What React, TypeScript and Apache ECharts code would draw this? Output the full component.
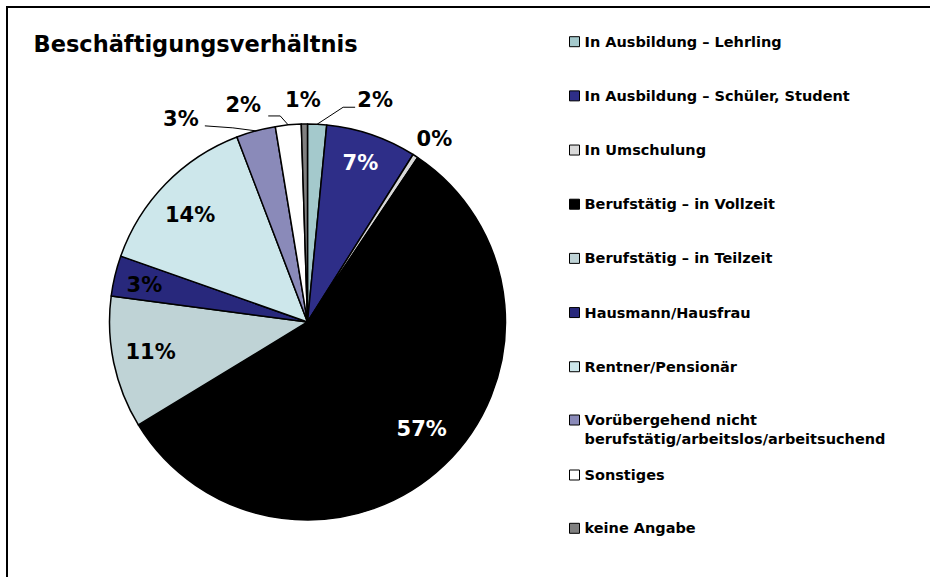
import React, { useEffect, useRef } from 'react';
import * as echarts from 'echarts';

const TITLE = 'Beschäftigungsverhältnis';

const CATEGORIES = [
  'In Ausbildung – Lehrling',
  'In Ausbildung – Schüler, Student',
  'In Umschulung',
  'Berufstätig – in Vollzeit',
  'Berufstätig – in Teilzeit',
  'Hausmann/Hausfrau',
  'Rentner/Pensionär',
  'Vorübergehend nicht berufstätig/arbeitslos/arbeitsuchend',
  'Sonstiges',
  'keine Angabe',
];

const VALUES = [1.55, 7.4, 0.45, 56.9, 10.8, 3.3, 13.8, 3.2, 2.1, 0.5];

const COLORS = [
  '#A4C9CC',
  '#2E2E88',
  '#D9D9D9',
  '#000000',
  '#BFD3D6',
  '#28287C',
  '#CDE7EB',
  '#8A8AB9',
  '#FFFFFF',
  '#808080',
];

const LABEL_COLORS = ['#000', '#fff', '#000', '#fff', '#000', '#000', '#000', '#000', '#000', '#000'];

// layout (not data)
const CX = 307.5;
const CY = 322;
const R = 198;
const FONT = 'DejaVu Sans';

type LabelCfg =
  | { kind: 'in'; f: number; dx: number; dy: number }
  | { kind: 'out'; dx: number; dy: number; line?: number[][] };

const LABEL_LAYOUT: LabelCfg[] = [
  { kind: 'out', dx: 58, dy: -24, line: [[26, -17], [38, -17]] },
  { kind: 'in', f: 0.84, dx: -1, dy: -1.5 },
  { kind: 'out', dx: 19, dy: -17 },
  { kind: 'in', f: 0.79, dx: 6, dy: -6 },
  { kind: 'in', f: 0.81, dx: 0, dy: -3 },
  { kind: 'in', f: 0.85, dx: 0.5, dy: 2 },
  { kind: 'in', f: 0.8, dx: -4, dy: 4 },
  { kind: 'out', dx: -75, dy: -12, line: [[-23, -3], [-51, -5]] },
  { kind: 'out', dx: -45, dy: -20, line: [[-8, -9], [-20, -9]] },
  { kind: 'out', dx: -1.5, dy: -24 },
];

export default function App() {
  const ref = useRef<HTMLDivElement>(null);

  useEffect(() => {
    if (!ref.current) return;
    const chart = echarts.init(ref.current, undefined, { renderer: 'svg' });

    const total = VALUES.reduce((a, b) => a + b, 0);
    const cum: number[] = [0];
    VALUES.forEach((v, i) => cum.push(cum[i] + v));

    const legendBase: any = {
      orient: 'vertical',
      left: 569,
      padding: 0,
      itemWidth: 10,
      itemHeight: 10,
      icon: 'rect',
      selectedMode: false,
      itemStyle: { borderColor: '#000', borderWidth: 1 },
      textStyle: {
        fontFamily: FONT,
        fontWeight: 'bold',
        fontSize: 14.5,
        color: '#000',
        lineHeight: 19,
      },
    };

    const option: any = {
      animation: false,
      backgroundColor: '#fff',
      title: {
        text: TITLE,
        left: 33.5,
        top: 33,
        padding: 0,
        textStyle: {
          fontFamily: FONT,
          fontWeight: 'bold',
          fontSize: 22.5,
          lineHeight: 22,
          color: '#000',
        },
      },
      legend: [
        { ...legendBase, top: 32.2, itemGap: 35.17, data: CATEGORIES.slice(0, 7) },
        {
          ...legendBase,
          top: 391.5,
          data: [CATEGORIES[7]],
          formatter: (name: string) => '\n' + name.replace('nicht ', 'nicht\n'),
        },
        { ...legendBase, top: 465.5, itemGap: 34.3, data: CATEGORIES.slice(8) },
      ],
      graphic: [
        {
          type: 'rect',
          silent: true,
          shape: { x: 7, y: 7, width: 960, height: 620 },
          style: { fill: 'none', stroke: '#000', lineWidth: 2 },
        },
      ],
      series: [
        {
          type: 'pie',
          center: [CX, CY],
          radius: R,
          startAngle: 90,
          clockwise: true,
          avoidLabelOverlap: false,
          emphasis: { disabled: true },
          itemStyle: { borderColor: '#000', borderWidth: 1.5 },
          label: {
            fontFamily: FONT,
            fontWeight: 'bold',
            fontSize: 21,
            formatter: (p: any) => Math.round(p.value) + '%',
          },
          labelLine: { lineStyle: { color: '#000', width: 1 } },
          labelLayout: (p: any) => {
            const i = p.dataIndex;
            const cfg = LABEL_LAYOUT[i];
            const a0 = (cum[i] / total) * Math.PI * 2;
            const a1 = (cum[i + 1] / total) * Math.PI * 2;
            const mid = (a0 + a1) / 2;
            const sx = Math.sin(mid);
            const sy = -Math.cos(mid);
            if (cfg.kind === 'in') {
              return {
                x: CX + R * cfg.f * sx + cfg.dx,
                y: CY + R * cfg.f * sy + cfg.dy,
                align: 'center',
                verticalAlign: 'middle',
              };
            }
            const ex = CX + R * sx;
            const ey = CY + R * sy;
            const res: any = {
              x: ex + cfg.dx,
              y: ey + cfg.dy,
              align: 'center',
              verticalAlign: 'middle',
            };
            if (cfg.line) {
              res.labelLinePoints = [
                [ex, ey],
                [ex + cfg.line[0][0], ey + cfg.line[0][1]],
                [ex + cfg.line[1][0], ey + cfg.line[1][1]],
              ];
            }
            return res;
          },
          data: CATEGORIES.map((name, i) => {
            const cfg = LABEL_LAYOUT[i];
            return {
              name,
              value: VALUES[i],
              itemStyle: { color: COLORS[i] },
              label: {
                position: cfg.kind === 'in' ? 'inside' : 'outside',
                color: LABEL_COLORS[i],
              },
              labelLine: { show: cfg.kind === 'out' && !!(cfg as any).line },
            };
          }),
        },
      ],
    };

    chart.setOption(option);
    return () => chart.dispose();
  }, []);

  return (
    <div
      ref={ref}
      style={{ position: 'fixed', left: 0, top: 0, width: 930, height: 577 }}
    />
  );
}
